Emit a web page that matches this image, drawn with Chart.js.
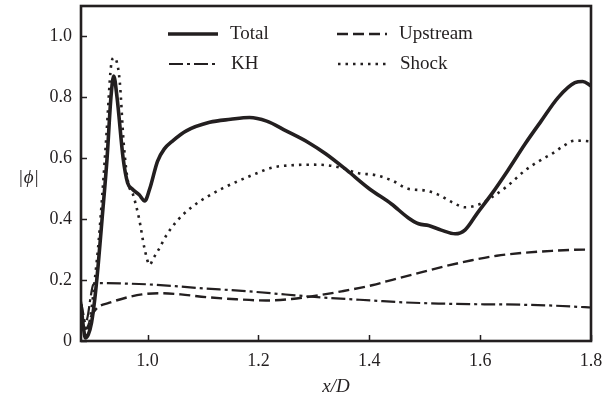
<!DOCTYPE html>
<html>
<head>
<meta charset="utf-8">
<script src="https://cdn.jsdelivr.net/npm/chart.js@4/dist/chart.umd.min.js"></script>
<style>
  body { margin: 0; background: #fff; }
</style>
</head>
<body>
<canvas id="chart" width="604" height="398"></canvas>
<script>
// values, |phi| against x/D
const totalX = [0.880, 0.884, 0.888, 0.893, 0.899, 0.905, 0.911, 0.918, 0.927, 0.934, 0.939, 0.945, 0.956, 0.964, 0.972, 0.985, 0.995, 1.004, 1.018, 1.030, 1.046, 1.070, 1.112, 1.150, 1.184, 1.215, 1.250, 1.290, 1.322, 1.360, 1.400, 1.440, 1.470, 1.489, 1.507, 1.530, 1.555, 1.573, 1.595, 1.621, 1.650, 1.681, 1.710, 1.741, 1.771, 1.785, 1.800];
const totalY = [0.12, 0.05, 0.01, 0.02, 0.06, 0.14, 0.25, 0.40, 0.60, 0.80, 0.870, 0.80, 0.60, 0.52, 0.50, 0.48, 0.46, 0.50, 0.59, 0.63, 0.658, 0.69, 0.718, 0.728, 0.734, 0.722, 0.690, 0.652, 0.614, 0.560, 0.500, 0.450, 0.405, 0.385, 0.379, 0.364, 0.352, 0.365, 0.420, 0.483, 0.560, 0.647, 0.722, 0.800, 0.848, 0.852, 0.838];

const upstreamX = [0.880, 0.884, 0.888, 0.893, 0.898, 0.905, 0.911, 0.930, 0.965, 0.990, 1.022, 1.060, 1.106, 1.160, 1.214, 1.260, 1.298, 1.350, 1.405, 1.450, 1.495, 1.540, 1.585, 1.630, 1.675, 1.730, 1.789, 1.800];
const upstreamY = [0.10, 0.06, 0.04, 0.05, 0.08, 0.10, 0.112, 0.125, 0.144, 0.153, 0.157, 0.153, 0.144, 0.137, 0.133, 0.138, 0.147, 0.163, 0.183, 0.205, 0.226, 0.247, 0.265, 0.280, 0.289, 0.296, 0.300, 0.300];

const khX = [0.880, 0.884, 0.888, 0.892, 0.897, 0.902, 0.910, 0.950, 1.000, 1.050, 1.106, 1.150, 1.196, 1.240, 1.286, 1.340, 1.405, 1.460, 1.525, 1.580, 1.645, 1.720, 1.789, 1.800];
const khY = [0.13, 0.09, 0.06, 0.08, 0.14, 0.185, 0.190, 0.189, 0.186, 0.180, 0.172, 0.167, 0.161, 0.154, 0.147, 0.140, 0.133, 0.127, 0.123, 0.121, 0.120, 0.117, 0.111, 0.110];

const shockX = [0.880, 0.885, 0.889, 0.894, 0.900, 0.906, 0.911, 0.918, 0.926, 0.934, 0.939, 0.944, 0.950, 0.957, 0.965, 0.974, 0.985, 0.995, 1.004, 1.010, 1.020, 1.035, 1.054, 1.080, 1.106, 1.136, 1.166, 1.196, 1.226, 1.260, 1.298, 1.325, 1.346, 1.381, 1.410, 1.441, 1.470, 1.501, 1.525, 1.550, 1.573, 1.600, 1.621, 1.650, 1.681, 1.710, 1.729, 1.750, 1.771, 1.789, 1.800];
const shockY = [0.07, 0.03, 0.02, 0.05, 0.12, 0.22, 0.31, 0.47, 0.68, 0.90, 0.93, 0.92, 0.85, 0.65, 0.52, 0.48, 0.40, 0.30, 0.25, 0.27, 0.30, 0.35, 0.396, 0.44, 0.472, 0.502, 0.527, 0.550, 0.570, 0.577, 0.579, 0.577, 0.570, 0.551, 0.545, 0.527, 0.500, 0.494, 0.480, 0.455, 0.439, 0.450, 0.472, 0.510, 0.560, 0.595, 0.614, 0.640, 0.658, 0.657, 0.655];

const xTicks = [1.0, 1.2, 1.4, 1.6, 1.8];
const yTicks = [0, 0.2, 0.4, 0.6, 0.8, 1.0];

const ink = '#231f20';
const serif = "'Liberation Serif', 'DejaVu Serif', serif";

function pts(xs, ys) {
  return xs.map((x, i) => ({ x: x, y: ys[i] }));
}

function line(label, xs, ys, width, dash) {
  return {
    label: label,
    data: pts(xs, ys),
    borderColor: ink,
    borderWidth: width,
    borderDash: dash,
    pointRadius: 0,
    cubicInterpolationMode: 'monotone',
    fill: false
  };
}

// frame, inward ticks, the two-column legend and the upright |phi| label
const decorations = {
  id: 'decorations',
  afterDraw(chart) {
    const ctx = chart.ctx;
    const a = chart.chartArea;
    const xs = chart.scales.x, ys = chart.scales.y;
    ctx.save();
    ctx.strokeStyle = ink;
    ctx.fillStyle = ink;

    ctx.lineWidth = 1.5;
    ctx.setLineDash([]);
    ctx.beginPath();
    xTicks.forEach(v => {
      const px = Math.round(xs.getPixelForValue(v)) + 0.5;
      ctx.moveTo(px, a.bottom);
      ctx.lineTo(px, a.bottom - 6);
    });
    yTicks.forEach(v => {
      const py = Math.round(ys.getPixelForValue(v)) + 0.5;
      ctx.moveTo(a.left, py);
      ctx.lineTo(a.left + 6, py);
    });
    ctx.stroke();

    ctx.lineWidth = 2.6;
    ctx.strokeRect(a.left, a.top, a.right - a.left, a.bottom - a.top);

    // legend
    const ds = chart.data.datasets;
    const slots = [
      { i: 0, x: 168, y: 34 },
      { i: 1, x: 337, y: 34 },
      { i: 2, x: 169, y: 64 },
      { i: 3, x: 338, y: 64 }
    ];
    ctx.font = '19px ' + serif;
    ctx.textBaseline = 'middle';
    ctx.textAlign = 'left';
    slots.forEach(s => {
      const d = ds[s.i];
      ctx.lineWidth = d.borderWidth;
      ctx.setLineDash(d.borderDash || []);
      ctx.beginPath();
      ctx.moveTo(s.x, s.y);
      ctx.lineTo(s.x + 50, s.y);
      ctx.stroke();
      ctx.setLineDash([]);
      ctx.fillText(d.label, s.x + 62, s.y);
    });

    // y title, horizontal
    ctx.font = '19px ' + serif;
    ctx.textBaseline = 'alphabetic';
    let tx = 19;
    const ty = 183;
    ctx.fillText('|', tx, ty);
    tx += ctx.measureText('|').width + 1;
    ctx.font = 'italic 19px ' + serif;
    ctx.fillText('ϕ', tx, ty);
    tx += ctx.measureText('ϕ').width + 1;
    ctx.font = '19px ' + serif;
    ctx.fillText('|', tx, ty);
    ctx.restore();
  }
};

new Chart(document.getElementById('chart'), {
  type: 'line',
  data: {
    datasets: [
      line('Total', totalX, totalY, 3.6, []),
      line('Upstream', upstreamX, upstreamY, 2.4, [11, 5]),
      line('KH', khX, khY, 2.2, [14, 4, 3, 4]),
      line('Shock', shockX, shockY, 2.6, [2.5, 5])
    ]
  },
  options: {
    animation: false,
    responsive: false,
    layout: { padding: { top: 6, right: 13, left: 0, bottom: 0 } },
    plugins: {
      legend: { display: false },
      tooltip: { enabled: false }
    },
    scales: {
      x: {
        type: 'linear',
        min: 0.88,
        max: 1.8,
        afterBuildTicks: scale => { scale.ticks = xTicks.map(v => ({ value: v })); },
        afterFit: scale => {
          scale.height = 57;
          scale.paddingLeft = 0;
          scale.paddingRight = 0;
        },
        grid: { display: false, drawTicks: false },
        border: { display: false },
        ticks: {
          padding: 9,
          color: ink,
          font: { family: serif, size: 18 },
          maxRotation: 0,
          callback: v => v.toFixed(1)
        },
        title: {
          display: true,
          text: 'x/D',
          color: ink,
          font: { family: serif, size: 19, style: 'italic' },
          padding: 0
        }
      },
      y: {
        type: 'linear',
        min: 0,
        max: 1.1,
        afterBuildTicks: scale => { scale.ticks = yTicks.map(v => ({ value: v })); },
        afterFit: scale => {
          scale.width = 81;
          scale.paddingTop = 0;
          scale.paddingBottom = 0;
        },
        grid: { display: false, drawTicks: false },
        border: { display: false },
        ticks: {
          padding: 9,
          color: ink,
          font: { family: serif, size: 18 },
          callback: v => (v === 0 ? '0' : v.toFixed(1))
        }
      }
    }
  },
  plugins: [decorations]
});
</script>
</body>
</html>
